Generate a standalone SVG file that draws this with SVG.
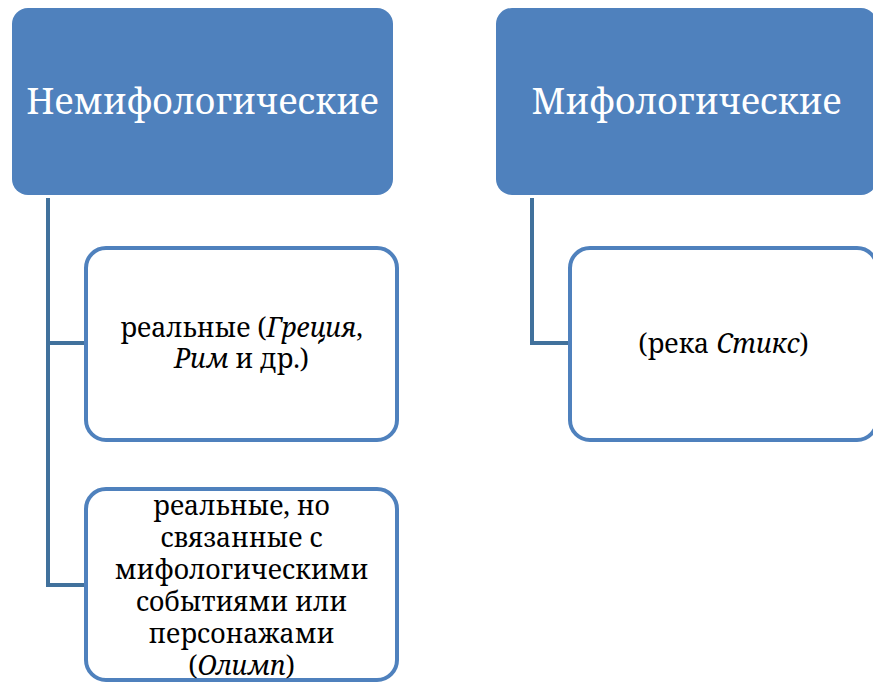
<svg xmlns="http://www.w3.org/2000/svg" width="873" height="682" viewBox="0 0 873 682">
<style>
.hdr{fill:#4F81BD;}
.hdrt{font-family:'Noto Serif','DejaVu Serif',serif;font-size:35.5px;fill:#FFFFFF;text-anchor:middle;}
.child{fill:#FFFFFF;stroke:#4F81BD;stroke-width:4;}
.ct{font-family:'Noto Serif','DejaVu Serif',serif;font-size:26.5px;fill:#000000;text-anchor:middle;}
.conn{fill:none;stroke:#41719C;stroke-width:4;}
</style>
<rect width="873" height="682" fill="#FFFFFF"/>
<g id="connectors">
<path class="conn" d="M48,198 V585 H86"/>
<path class="conn" d="M48,343 H86"/>
<path class="conn" d="M532,198 V343 H570"/>
</g>
<g id="n-nemif">
<rect class="hdr" x="12" y="8" width="381" height="187" rx="16"/>
<text class="hdrt" x="202.5" y="114">Немифологические</text>
</g>
<g id="n-mif">
<rect class="hdr" x="496" y="8" width="381" height="187" rx="16"/>
<text class="hdrt" x="686.5" y="114">Мифологические</text>
</g>
<g id="n-real">
<rect class="child" x="86" y="248" width="311" height="192" rx="20"/>
<text class="ct" x="241.5" y="337">реальные (<tspan font-style="italic">Греция</tspan>,</text>
<text class="ct" x="241.5" y="368"><tspan font-style="italic">Рим</tspan> и др.)</text>
</g>
<g id="n-real-myth">
<rect class="child" x="86" y="489" width="311" height="191" rx="20"/>
<text class="ct" x="241.5" y="515">реальные, но</text>
<text class="ct" x="241.5" y="547">связанные с</text>
<text class="ct" x="241.5" y="579">мифологическими</text>
<text class="ct" x="241.5" y="611">событиями или</text>
<text class="ct" x="241.5" y="643">персонажами</text>
<text class="ct" x="241.5" y="675">(<tspan font-style="italic">Олимп</tspan>)</text>
</g>
<g id="n-styx">
<rect class="child" x="570" y="248" width="307" height="192" rx="20"/>
<text class="ct" x="723.5" y="353">(река <tspan font-style="italic">Стикс</tspan>)</text>
</g>
</svg>
